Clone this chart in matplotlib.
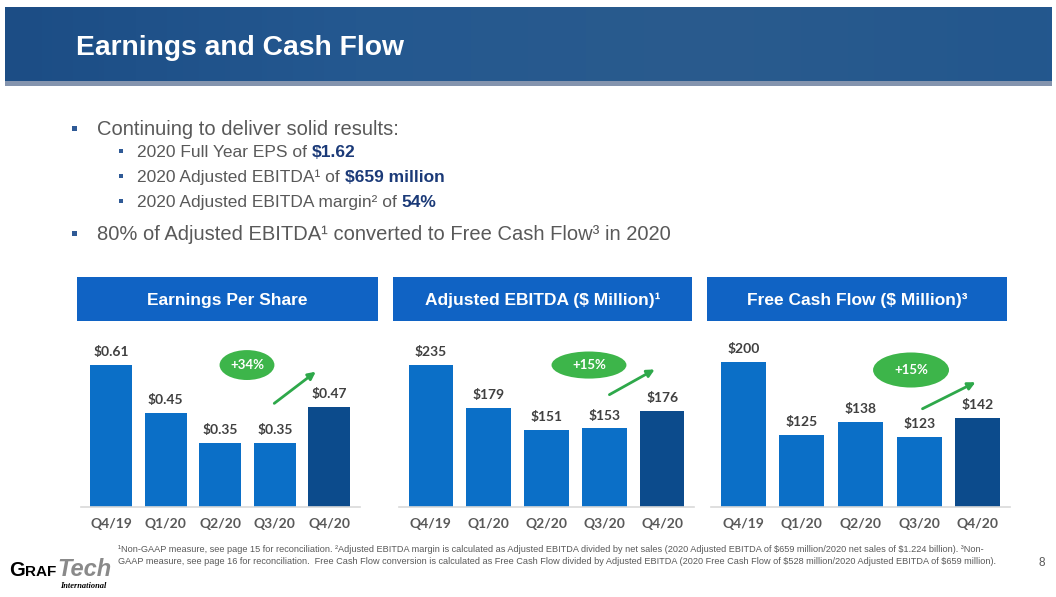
import numpy as np
import matplotlib
matplotlib.use("Agg")
import matplotlib.pyplot as plt
from matplotlib import font_manager
from matplotlib.patches import Rectangle, Ellipse
from matplotlib.colors import LinearSegmentedColormap

plt.rcParams['text.parse_math'] = False
plt.rcParams['font.family'] = ['Liberation Sans', 'DejaVu Sans']

# data
quarters = ['Q4/19', 'Q1/20', 'Q2/20', 'Q3/20', 'Q4/20']
eps = [0.61, 0.45, 0.35, 0.35, 0.47]
ebitda = [235, 179, 151, 153, 176]
fcf = [200, 125, 138, 123, 142]
eps_growth = '+34%'
ebitda_growth = '+15%'
fcf_growth = '+15%'

W, H = 1056, 597
fig = plt.figure(figsize=(W / 100, H / 100), dpi=100)
bg = fig.add_axes([0, 0, 1, 1])
renderer = fig.canvas.get_renderer()

GRAY = '#595959'
NAVY = '#1b3a78'
BAR = '#0b6fc7'
BAR_DARK = '#0c4b8c'
HEAD = '#1063c4'
GREEN = '#3db54a'

installed = {f.name for f in font_manager.fontManager.ttflist}
NARROW = 'Liberation Sans Narrow' if 'Liberation Sans Narrow' in installed else 'Liberation Sans'


def frac(l, t, r, b):
    return [l / W, 1 - b / H, (r - l) / W, (b - t) / H]


def advance(s, **kw):
    # width of s including spaces (measure against a bar char)
    t1 = bg.text(0, 0, s + '|', **kw)
    t2 = bg.text(0, 0, '|', **kw)
    w = t1.get_window_extent(renderer).width - t2.get_window_extent(renderer).width
    t1.remove()
    t2.remove()
    return w


def rich(x, y, pieces, **common):
    for s, kw in pieces:
        opts = dict(common)
        opts.update(kw)
        bg.text(x, y, s, va='baseline', ha='left', **opts)
        x += advance(s, **opts)
    return x


# header band
band = LinearSegmentedColormap.from_list('band', ['#1c4d85', '#245890', '#2a5b8d', '#23578e'])
bg.imshow(np.linspace(0, 1, 200)[None, :], extent=(5, 1052, 86, 7), cmap=band, aspect='auto')
bg.add_patch(Rectangle((5, 81), 1047, 5, color='#8494ae', lw=0))
bg.text(76, 48, 'Earnings and Cash Flow', color='white', fontsize=20.3,
        fontweight='bold', va='center', ha='left')

# bullets
def bullet(x, y, size):
    bg.add_patch(Rectangle((x - size / 2, y - size / 2), size, size, color='#2f5a96', lw=0))

bullet(74, 128, 5)
rich(97, 135, [('Continuing to deliver solid results:', {})], fontsize=14.5, color=GRAY)
sub = [
    [('2020 Full Year EPS of ', {}), ('$1.62', {'fontweight': 'bold', 'color': NAVY})],
    [('2020 Adjusted EBITDA\u00b9 of ', {}), ('$659 million', {'fontweight': 'bold', 'color': NAVY})],
    [('2020 Adjusted EBITDA margin\u00b2 of ', {}), ('54%', {'fontweight': 'bold', 'color': NAVY})],
]
for i, pieces in enumerate(sub):
    y = 151 + 25 * i
    bullet(121, y, 4.5)
    rich(137, y + 6, pieces, fontsize=12.5, color=GRAY)
bullet(74, 233, 5)
rich(97, 240, [('80% of Adjusted EBITDA\u00b9 converted to Free Cash Flow\u00b3 in 2020', {})],
     fontsize=14.5, color=GRAY)

# panel headers
headers = [('Earnings Per Share', 77, 378),
           ('Adjusted EBITDA ($ Million)\u00b9', 393, 692),
           ('Free Cash Flow ($ Million)\u00b3', 707, 1007)]
for txt, l, r in headers:
    bg.add_patch(Rectangle((l, 277), r - l, 44, color=HEAD, lw=0))
    bg.text((l + r) / 2, 300, txt, color='white', fontsize=12.5, fontweight='bold',
            ha='center', va='center')

# footnotes
foot1 = ('\u00b9Non-GAAP measure, see page 15 for reconciliation. \u00b2Adjusted EBITDA margin is calculated as '
         'Adjusted EBITDA divided by net sales (2020 Adjusted EBITDA of $659 million/2020 net sales of '
         '$1.224 billion). \u00b3Non-')
foot2 = ('GAAP measure, see page 16 for reconciliation.  Free Cash Flow conversion is calculated as Free Cash '
         'Flow divided by Adjusted EBITDA (2020 Free Cash Flow of $528 million/2020 Adjusted EBITDA of $659 million).')
t = bg.text(118, 549, foot1, fontsize=6, color=GRAY, va='center', ha='left', family=NARROW)
fs = 6 * 867 / t.get_window_extent(renderer).width
t.set_fontsize(fs)
bg.text(118, 561, foot2, fontsize=fs, color=GRAY, va='center', ha='left', family=NARROW)
bg.text(1042, 563, '8', fontsize=8.5, color=GRAY, va='center', ha='center')

# logo
x = rich(9, 576, [('G', {'fontsize': 14.5}), ('RAF', {'fontsize': 11})],
         fontweight='bold', color='black', family='Liberation Sans')
rich(x + 1, 576, [('Tech', {})], fontsize=17, fontweight='bold', fontstyle='italic',
     color='#8a8a8a', family='Liberation Sans')
bg.text(106, 582, 'International', fontsize=6, fontweight='bold', fontstyle='italic',
        family='Liberation Serif', color='black', ha='right', va='top')

bg.set_xlim(0, W)
bg.set_ylim(H, 0)
bg.axis('off')


# bar panels
def panel(box, values, labels, ylim, growth, ell, arrow):
    ax = fig.add_axes(frac(*box))
    x = np.arange(len(values))
    colors = [BAR] * (len(values) - 1) + [BAR_DARK]
    ax.bar(x, values, width=0.77, color=colors)
    ax.set_xlim(-0.55, len(values) - 0.45)
    ax.set_ylim(*ylim)
    for s in ['top', 'right', 'left']:
        ax.spines[s].set_visible(False)
    ax.spines['bottom'].set_color('#d9d9d9')
    ax.spines['bottom'].set_linewidth(1.2)
    ax.set_yticks([])
    ax.set_xticks(x, quarters)
    ax.tick_params(axis='x', length=0, pad=8, labelsize=10, labelcolor=GRAY)
    for lab in ax.get_xticklabels():
        lab.set_family('Lato')
        lab.set_fontweight('bold')
    for i, (v, lab) in enumerate(zip(values, labels)):
        ax.annotate(lab, (i, v), xytext=(0, 5), textcoords='offset points', ha='center',
                    va='bottom', fontsize=10, color='#404040', family='Lato', fontweight='bold')
    ax.patch.set_alpha(0)
    cx, cy, ew, eh = ell
    ax.add_patch(Ellipse((cx, cy), ew, eh, transform=ax.transAxes, color=GREEN, lw=0, clip_on=False))
    ax.text(cx, cy, growth, transform=ax.transAxes, ha='center', va='center', color='white',
            fontsize=9.5, family='Lato', fontweight='bold')
    ax.annotate('', xy=arrow[2:], xytext=arrow[:2], xycoords='axes fraction',
                arrowprops=dict(arrowstyle='-|>', color='#2ea84a', lw=2, mutation_scale=11))
    return ax


panel((81, 330, 359.5, 507), eps, ['$%.2f' % v for v in eps], (0.137, 0.727), eps_growth,
      (0.596, 0.802, 0.197, 0.169), (0.686, 0.576, 0.851, 0.774))
panel((399, 330, 694, 507), ebitda, ['$%d' % v for v in ebitda], (51.5, 280.2), ebitda_growth,
      (0.644, 0.802, 0.254, 0.153), (0.705, 0.627, 0.875, 0.785))
panel((711, 330, 1010, 507), fcf, ['$%d' % v for v in fcf], (51, 232.7), fcf_growth,
      (0.669, 0.774, 0.254, 0.198), (0.699, 0.548, 0.893, 0.712))

fig.savefig('out.png', dpi=100)
